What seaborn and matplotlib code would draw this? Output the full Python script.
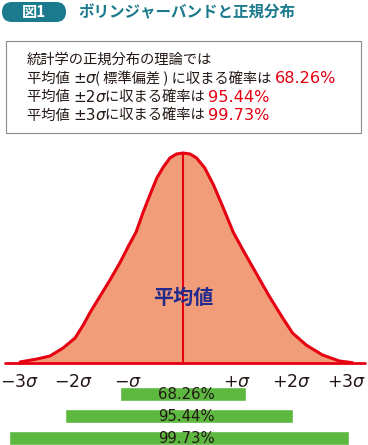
import matplotlib
matplotlib.use("Agg")
import matplotlib.pyplot as plt
import seaborn as sns
import pandas as pd
from matplotlib.patches import FancyBboxPatch, Rectangle
from matplotlib.transforms import Affine2D

# curve: x in sigma units, height in px above the base line
curve_x = [-2.99, -2.68, -2.44, -2.20, -1.98, -1.83, -1.71, -1.52, -1.34, -1.16,
           -1.00, -0.86, -0.73, -0.60, -0.48, -0.36, -0.24, -0.12, 0.00, 0.13,
           0.25, 0.40, 0.56, 0.74, 0.92, 1.10, 1.34, 1.58, 1.83, 2.01,
           2.26, 2.56, 2.87, 3.11]
curve_y = [1, 4, 7, 15, 25, 38, 50, 67, 83, 100,
           117, 131, 151, 169, 185, 196, 205, 209, 210, 209,
           205, 195, 178, 155, 131, 113, 90, 67, 45, 30,
           18, 8, 2, 0.3]

tick_pos = [-3, -2, -1, 1, 2, 3]
tick_labels = [r'$-3\sigma$', r'$-2\sigma$', r'$-\sigma$',
               r'$+\sigma$', r'$+2\sigma$', r'$+3\sigma$']

band_labels = ['68.26%', '95.44%', '99.73%']
band_left = [-1.15, -2.17, -3.19]
band_right = [1.16, 2.01, 3.05]

title = 'ボリンジャーバンドと正規分布'
fig_no = '図1'
intro = '統計学の正規分布の理論では'
pct = ['68.26%', '95.44%', '99.73%']

RED = '#e50012'
FILL = '#f19d79'
GREEN = '#5db83f'
TEAL = '#1b7a8d'
NAVY = '#232a8c'
DARK = '#231815'

sns.set_theme(style='white')
plt.rcParams['font.family'] = ['Noto Sans CJK JP', 'DejaVu Sans']

W, H = 368, 445
fig = plt.figure(figsize=(W / 100, H / 100), dpi=100)
px = Affine2D().scale(1, -1).translate(0, H)  # pixel coords, origin top-left

# --- header ---
fig.patches.append(FancyBboxPatch((2, 2), 64, 20, boxstyle='round,pad=0,rounding_size=10',
                                  transform=px, facecolor=TEAL, edgecolor='none'))
fig.text(34, 12.5, fig_no, transform=px, ha='center', va='center', color='white',
         fontsize=11, fontweight='bold')
fig.text(78, 12.5, title, transform=px, ha='left', va='center', color=TEAL,
         fontsize=11.2, fontweight='bold')

# --- text box ---
fig.patches.append(Rectangle((6, 41), 355, 92, transform=px, facecolor='none',
                             edgecolor='#8a8a8a', linewidth=0.8))

renderer = fig.canvas.get_renderer()


def put_runs(x, y, runs):
    for s, kw in runs:
        t = fig.text(x, y, s, transform=px, ha='left', va='center', **kw)
        x += t.get_window_extent(renderer).width


txt = dict(fontsize=10.3, color=DARK)
num = dict(fontsize=11, color=DARK, family='DejaVu Sans')
sig = dict(fontsize=11, color=DARK, family='DejaVu Sans', style='italic')
red = dict(fontsize=11.6, color=RED, family='DejaVu Sans')
put_runs(27, 60, [(intro, txt)])
put_runs(27, 78.5, [('平均値 ', txt), ('±', num), ('σ', sig),
                    ('( 標準偏差 ) に収まる確率は ', txt), (pct[0], red)])
put_runs(27, 97, [('平均値 ', txt), ('±2', num), ('σ', sig), ('に収まる確率は ', txt), (pct[1], red)])
put_runs(27, 115.5, [('平均値 ', txt), ('±3', num), ('σ', sig), ('に収まる確率は ', txt), (pct[2], red)])

# --- bell curve ---
sigma_px, center_px = 54.5, 183
xlim = (-center_px / sigma_px, (W - center_px) / sigma_px)
ax = fig.add_axes([0, (H - 363) / H, 1, 218 / H])
df = pd.DataFrame({'x': curve_x, 'y': curve_y})
ax.fill_between(df['x'], 0, df['y'], color=FILL, linewidth=0)
sns.lineplot(data=df, x='x', y='y', ax=ax, color=RED, linewidth=2.2, clip_on=False)
ax.vlines(0, 0, max(curve_y), color=RED, linewidth=1.5)
ax.axhline(0, xmin=5 / W, xmax=365 / W, color=RED, linewidth=2, clip_on=False)
ax.text(0, 66, '平均値', ha='center', va='center', color=NAVY, fontsize=14.5, fontweight='bold')
ax.set_xlim(*xlim)
ax.set_ylim(0, 218)
ax.set_xticks(tick_pos, labels=tick_labels)
ax.tick_params(axis='x', length=0, pad=7, labelsize=12.5, labelcolor=DARK)
ax.set_yticks([])
ax.set_xlabel('')
ax.set_ylabel('')
for s in ax.spines.values():
    s.set_visible(False)
ax.patch.set_alpha(0)

# --- range bars ---
bx = fig.add_axes([0, (H - 449) / H, 1, 66 / H])
pos = list(range(len(band_labels)))
widths = [r - l for l, r in zip(band_left, band_right)]
bx.barh(pos, widths, left=band_left, height=0.64, color=GREEN)
for p, lab in zip(pos, band_labels):
    bx.text(0.06, p + 0.03, lab, ha='center', va='center', fontsize=10.7, color=DARK,
            family='DejaVu Sans')
bx.set_xlim(*xlim)
bx.set_ylim(2.5, -0.5)
bx.axis('off')

fig.savefig('out.png', dpi=100)
